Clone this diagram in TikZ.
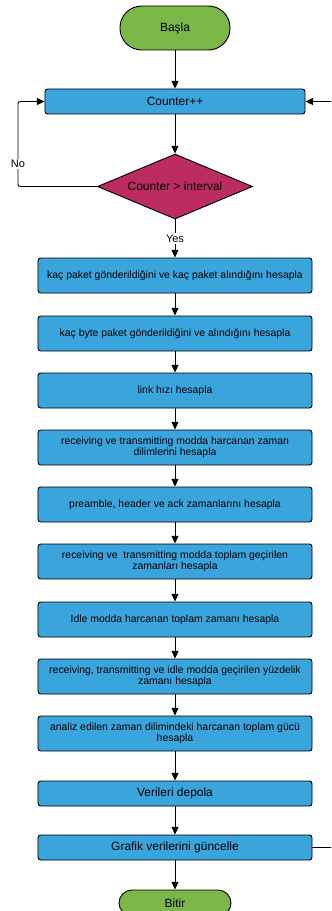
\documentclass[tikz,border=0pt]{standalone}
\usepackage{fontspec}
\setmainfont{Liberation Sans}
\usetikzlibrary{positioning,arrows.meta,shapes.geometric}
\definecolor{procblue}{HTML}{3AA4DC}
\definecolor{termgreen}{HTML}{7AB648}
\definecolor{decred}{HTML}{BC2B62}

\begin{document}
\begin{tikzpicture}[
  x=0.3mm, y=-0.3mm,
  term/.style={draw, fill=termgreen, line width=0.8pt, rounded corners=6.5mm,
    minimum width=33mm, minimum height=13.2mm, font=\fontsize{10.2}{12}\selectfont},
  proc/.style={draw, fill=procblue, line width=0.8pt, rounded corners=0.8mm,
    minimum width=82.2mm, minimum height=10.5mm, inner sep=1pt, align=center,
    font=\fontsize{8.9}{9}\selectfont},
  procbig/.style={proc, minimum height=7.5mm, font=\fontsize{10.2}{12}\selectfont},
  dec/.style={draw, fill=decred, line width=0.8pt, diamond, aspect=2.4, inner sep=0pt,
    minimum width=46.5mm, minimum height=19.5mm, font=\fontsize{10.2}{12}\selectfont},
  arr/.style={-{Triangle[length=2.3mm,width=2.1mm]}, line width=0.8pt},
  lb/.style={fill=white, inner sep=1pt, font=\fontsize{9.4}{11}\selectfont},
]
\path[use as bounding box, clip] (0,0) rectangle (331,911);
% start and loop check
\node[term] (basla) at (175,28) {Başla};
\node[procbig, minimum width=78mm] (counter) at (175,101.5) {Counter++};
\node[dec] (check) at (175,186.5) {Counter > interval};
% calculations
\node[proc] (paket) at (175,275.5) {kaç paket gönderildiğini ve kaç paket alındığını hesapla};
\node[proc] (bayt) at (175,333.5) {kaç byte paket gönderildiğini ve alındığını hesapla};
\node[proc] (link) at (175,390.5) {link hızı hesapla};
\node[proc] (dilim) at (175,447.5) {receiving ve transmitting modda harcanan zaman\\dilimlerini hesapla};
\node[proc] (preamble) at (175,504.5) {preamble, header ve ack zamanlarını hesapla};
\node[proc] (toplam) at (175,561.5) {receiving ve\ \ transmitting modda toplam geçirilen\\zamanları hesapla};
\node[proc] (idle) at (175,619.5) {Idle modda harcanan toplam zamanı hesapla};
\node[proc] (yuzde) at (175,676.5) {receiving, transmitting ve idle modda geçirilen yüzdelik\\zamanı hesapla};
\node[proc] (guc) at (175,733.5) {analiz edilen zaman dilimindeki harcanan toplam gücü\\hesapla};
% store, update, end
\node[procbig] (depola) at (175,793.5) {Verileri depola};
\node[procbig] (grafik) at (175,847.5) {Grafik verilerini güncelle};
\node[term, minimum width=33.6mm, minimum height=7.8mm, rounded corners=3.9mm] (bitir) at (175,903) {Bitir};

\draw[arr] (basla) -- (counter);
\draw[arr] (counter) -- (check);
\draw[arr] (check) -- node[lb] {Yes} (paket);
\draw[arr] (paket) -- (bayt);
\draw[arr] (bayt) -- (link);
\draw[arr] (link) -- (dilim);
\draw[arr] (dilim) -- (preamble);
\draw[arr] (preamble) -- (toplam);
\draw[arr] (toplam) -- (idle);
\draw[arr] (idle) -- (yuzde);
\draw[arr] (yuzde) -- (guc);
\draw[arr] (guc) -- (depola);
\draw[arr] (depola) -- (grafik);
\draw[arr] (grafik) -- (bitir);
% loops back to the counter
\coordinate (nobend) at (18,186.5);
\draw[arr, rounded corners=0.6mm] (check.west) -- (nobend) |- (counter.west);
\node[lb] (no) at (18,164) {No};
\coordinate (backbend) at (345,847.5);
\draw[arr] (grafik.east) -- (backbend) |- (counter.east);
\end{tikzpicture}
\end{document}
